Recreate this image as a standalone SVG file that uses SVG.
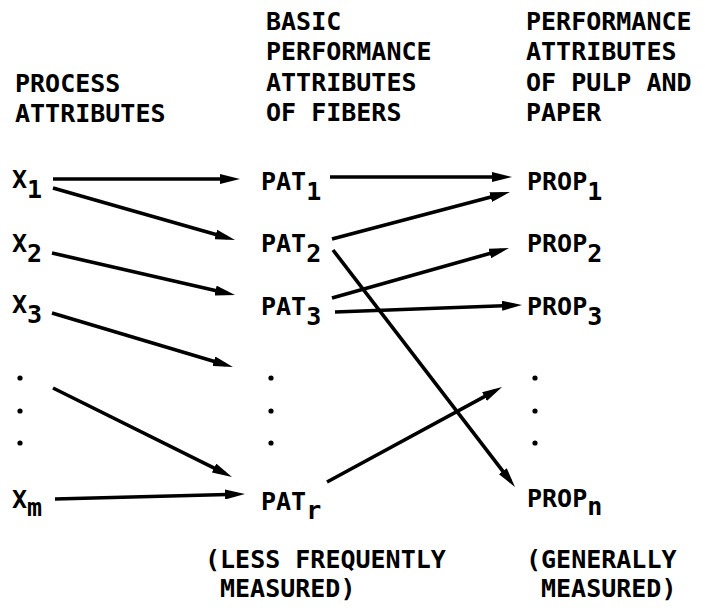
<svg xmlns="http://www.w3.org/2000/svg" width="705" height="611" viewBox="0 0 705 611">
<style>
text{font-family:"DejaVu Sans Mono","Liberation Mono",monospace;font-size:25px;font-weight:bold;fill:#000}
.c line{stroke:#000;stroke-width:3.6;marker-end:url(#ah)}
.dot{fill:#000}
</style>
<defs>
<marker id="ah" markerUnits="userSpaceOnUse" markerWidth="20" markerHeight="10" refX="12" refY="5" orient="auto" viewBox="0 0 20 10">
<path d="M0,0 L20,5 L0,10 z" fill="#000"/>
</marker>
</defs>
<rect width="705" height="611" fill="#fff"/>
<g id="headers">
<text x="15" y="92">PROCESS</text>
<text x="15" y="122">ATTRIBUTES</text>
<text x="266" y="30">BASIC</text>
<text x="266" y="60">PERFORMANCE</text>
<text x="266" y="91">ATTRIBUTES</text>
<text x="266" y="121">OF FIBERS</text>
<text x="526" y="30">PERFORMANCE</text>
<text x="526" y="60">ATTRIBUTES</text>
<text x="526" y="91">OF PULP AND</text>
<text x="526" y="121">PAPER</text>
<text x="205" y="568">(LESS FREQUENTLY</text>
<text x="220" y="597">MEASURED)</text>
<text x="526" y="568">(GENERALLY</text>
<text x="541" y="597">MEASURED)</text>
</g>
<g id="x1"><text x="12" y="188">X<tspan dy="10">1</tspan></text></g>
<g id="x2"><text x="12" y="252">X<tspan dy="10">2</tspan></text></g>
<g id="x3"><text x="12" y="313">X<tspan dy="10">3</tspan></text></g>
<g id="xdots"><circle class="dot" cx="20" cy="378" r="2.6"/><circle class="dot" cx="20" cy="411" r="2.6"/><circle class="dot" cx="20" cy="443" r="2.6"/></g>
<g id="xm"><text x="12" y="508">X<tspan dy="8">m</tspan></text></g>
<g id="pat1"><text x="261" y="190">PAT<tspan dy="10">1</tspan></text></g>
<g id="pat2"><text x="261" y="252">PAT<tspan dy="10">2</tspan></text></g>
<g id="pat3"><text x="261" y="315">PAT<tspan dy="10">3</tspan></text></g>
<g id="patdots"><circle class="dot" cx="271" cy="378" r="2.6"/><circle class="dot" cx="271" cy="411" r="2.6"/><circle class="dot" cx="271" cy="443" r="2.6"/></g>
<g id="patr"><text x="261" y="510">PAT<tspan dy="9">r</tspan></text></g>
<g id="prop1"><text x="527" y="190">PROP<tspan dy="10">1</tspan></text></g>
<g id="prop2"><text x="527" y="252">PROP<tspan dy="10">2</tspan></text></g>
<g id="prop3"><text x="527" y="315">PROP<tspan dy="10">3</tspan></text></g>
<g id="propdots"><circle class="dot" cx="535" cy="378" r="2.6"/><circle class="dot" cx="535" cy="411" r="2.6"/><circle class="dot" cx="535" cy="443" r="2.6"/></g>
<g id="propn"><text x="527" y="507">PROP<tspan dy="8">n</tspan></text></g>
<g id="connectors" class="c">
<line x1="53" y1="179" x2="232" y2="179"/>
<line x1="53" y1="188" x2="227.3" y2="237.8"/>
<line x1="52" y1="253" x2="227.2" y2="293.2"/>
<line x1="52" y1="313" x2="225.3" y2="364.7"/>
<line x1="53" y1="388" x2="224.8" y2="473.4"/>
<line x1="55" y1="499" x2="237" y2="494.2"/>
<line x1="330" y1="177" x2="504" y2="177"/>
<line x1="332" y1="239" x2="502.3" y2="194"/>
<line x1="332" y1="298" x2="501.3" y2="250.2"/>
<line x1="335" y1="312" x2="514" y2="305.3"/>
<line x1="333" y1="250" x2="510.1" y2="480.7"/>
<line x1="327" y1="482" x2="495" y2="390.8"/>
</g>
</svg>
